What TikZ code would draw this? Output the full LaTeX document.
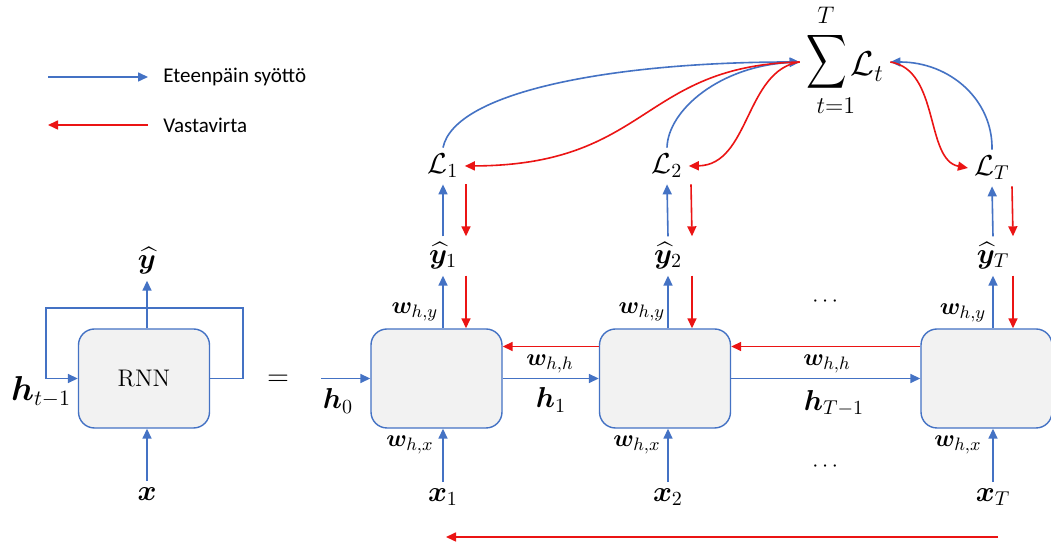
\documentclass[tikz,border=0pt]{standalone}
\usepackage{amsmath,amssymb}
\usepackage{bm}
\usepackage{fontspec}
\newfontfamily\legendfont{Carlito}
\usetikzlibrary{arrows.meta,calc,positioning}

\definecolor{fwdblue}{RGB}{68,114,196}
\definecolor{bwdred}{RGB}{235,20,20}
\definecolor{cellgray}{RGB}{242,242,242}

\begin{document}
\begin{tikzpicture}[
  x=0.5pt, y=-0.5pt,
  cell/.style={draw=fwdblue,line width=0.7pt,rounded corners=8pt,fill=cellgray,minimum width=65.5pt,minimum height=49.5pt},
  lbl/.style={inner sep=3pt,font=\fontsize{14}{16}\selectfont},
  wlbl/.style={inner sep=1pt,font=\fontsize{12.5}{14}\selectfont},
  legtxt/.style={anchor=west,inner sep=7.5pt,font=\legendfont\fontsize{10.5}{12}\selectfont},
  fwd/.style={-{Triangle[length=5pt,width=4.5pt]},line width=0.8pt,draw=fwdblue},
  bwd/.style={-{Triangle[length=5pt,width=4.5pt]},line width=0.8pt,draw=bwdred},
]
\fill[white] (0,0) rectangle (1051,544);
\useasboundingbox (0,0) rectangle (1051,544);

% legend
\coordinate (legF) at (48,77);
\coordinate (legB) at (48,125);
\node[legtxt] (ftxt) at (148,77) {Eteenpäin syöttö};
\node[legtxt] (btxt) at (148,125) {Vastavirta};
\draw[fwd] (legF) -- (ftxt.west);
\draw[bwd] (btxt.west) -- (legB);

% folded network
\node[cell,font=\fontsize{12}{14}\selectfont] (c0) at (144,378.5) {RNN};
\node[lbl] (yh0) at (147,261) {$\widehat{\bm{y}}$};
\node[lbl] (x0) at (147,494) {$\bm{x}$};
\node[lbl,font=\fontsize{16}{18}\selectfont] (ht) at (41,392) {$\bm{h}_{t-1}$};
\node[lbl,font=\fontsize{15}{17}\selectfont] (eq) at (278,380) {$=$};
\coordinate (loopR) at (243,308);
\coordinate (loopL) at (46,308);
\draw[fwd] (c0.east) -| (loopR) -- (loopL) |- (c0.west);
\draw[fwd] (c0.north -| yh0) -- (yh0.south);
\draw[fwd] (x0.north) -- (c0.south -| x0);

% unrolled cells
\node[cell] (c1) at (436.5,378.5) {};
\node[cell] (c2) at (665,378.5) {};
\node[cell] (c3) at (986.5,378.5) {};

\node[lbl] (y1) at (443,256) {$\widehat{\bm{y}}_1$};
\node[lbl] (y2) at (668,256) {$\widehat{\bm{y}}_2$};
\node[lbl] (yT) at (993,256) {$\widehat{\bm{y}}_T$};
\node[lbl] (L1) at (443,166) {$\mathcal{L}_1$};
\node[lbl] (L2) at (667,166) {$\mathcal{L}_2$};
\node[lbl] (LT) at (992,168) {$\mathcal{L}_T$};
\node[lbl] (x1) at (443,497) {$\bm{x}_1$};
\node[lbl] (x2) at (668,497) {$\bm{x}_2$};
\node[lbl] (xT) at (993,497) {$\bm{x}_T$};

\node[wlbl] (wy1) at (415,312) {$\bm{w}_{h,y}$};
\node[wlbl] (wy2) at (642,312) {$\bm{w}_{h,y}$};
\node[wlbl] (wy3) at (963,313) {$\bm{w}_{h,y}$};
\node[wlbl] (wx1) at (410,445) {$\bm{w}_{h,x}$};
\node[wlbl] (wx2) at (637,445) {$\bm{w}_{h,x}$};
\node[wlbl] (wx3) at (958,445) {$\bm{w}_{h,x}$};
\node[wlbl] (whh1) at (550,364) {$\bm{w}_{h,h}$};
\node[wlbl] (whh2) at (827,364) {$\bm{w}_{h,h}$};
\node[lbl] (h1) at (551,400) {$\bm{h}_1$};
\node[lbl] (hT) at (834,403) {$\bm{h}_{T-1}$};
\node[lbl] (h0) at (338,401) {$\bm{h}_0$};
\node[lbl,font=\fontsize{11}{13}\selectfont] (dtop) at (827,302) {$\cdots$};
\node[lbl,font=\fontsize{11}{13}\selectfont] (dbot) at (827,467) {$\cdots$};

% loss sum
\node[inner sep=3pt,font=\fontsize{13}{15}\selectfont] (sum) at (845,62)
  {$\vcenter{\hbox{\scalebox{1.08}[1.45]{$\displaystyle\sum$}}}\,\raisebox{-4pt}[0pt][0pt]{\fontsize{16.5}{18}\selectfont$\mathcal{L}_t$}$};
\node[inner sep=1pt,font=\fontsize{11.5}{13}\selectfont] (sumtop) at (826,15) {$T$};
\node[inner sep=1pt,font=\fontsize{12.5}{14}\selectfont] (sumbot) at (836,106) {$t{=}1$};

% forward pass
\coordinate (h0in) at (321,378.5);
\draw[fwd] (h0in) -- (c1.west);
\draw[fwd] (c1) -- (c2);
\draw[fwd] (c2) -- (c3);
\draw[fwd] (x1.north) -- (c1.south -| x1);
\draw[fwd] (x2.north) -- (c2.south -| x2);
\draw[fwd] (xT.north) -- (c3.south -| xT);
\draw[fwd] (c1.north -| y1) -- (y1.south);
\draw[fwd] (c2.north -| y2) -- (y2.south);
\draw[fwd] (c3.north -| yT) -- (yT.south);
\draw[fwd] (y1.north) -- (L1.south);
\draw[fwd] (y2.north) -- (L2.south);
\draw[fwd] (yT.north) -- (LT.south);
\draw[fwd] (L1.north) .. controls (455,90) and (620,62) .. (sum.west);
\draw[fwd] (L2.north) .. controls (668,110) and (720,66) .. (sum.west);
\draw[fwd] (LT.north) .. controls (993,100) and (950,62) .. (sum.east);

% backward pass
\draw[bwd] (sum.west) .. controls (640,66) and (650,165) .. (L1.east);
\draw[bwd] (sum.west) .. controls (745,70) and (750,165) .. (L2.east);
\draw[bwd] (sum.east) .. controls (940,70) and (925,160) .. (LT.west);
\draw[bwd] ($(L1.south)+(23,0)$) -- ($(y1.north)+(23,0)$);
\draw[bwd] ($(L2.south)+(24,0)$) -- ($(y2.north)+(24,0)$);
\draw[bwd] ($(LT.south)+(20,0)$) -- ($(yT.north)+(20,0)$);
\draw[bwd] ($(y1.south)+(23,0)$) -- ($(c1.north -| y1)+(23,0)$);
\draw[bwd] ($(y2.south)+(24,0)$) -- ($(c2.north -| y2)+(24,0)$);
\draw[bwd] ($(yT.south)+(20,0)$) -- ($(c3.north -| yT)+(20,0)$);
\draw[bwd] ($(c2.west)+(0,-32)$) -- ($(c1.east)+(0,-32)$);
\draw[bwd] ($(c3.west)+(0,-32)$) -- ($(c2.east)+(0,-32)$);
\coordinate (bpR) at (998,537);
\coordinate (bpL) at (446,537);
\draw[bwd] (bpR) -- (bpL);
\end{tikzpicture}
\end{document}
